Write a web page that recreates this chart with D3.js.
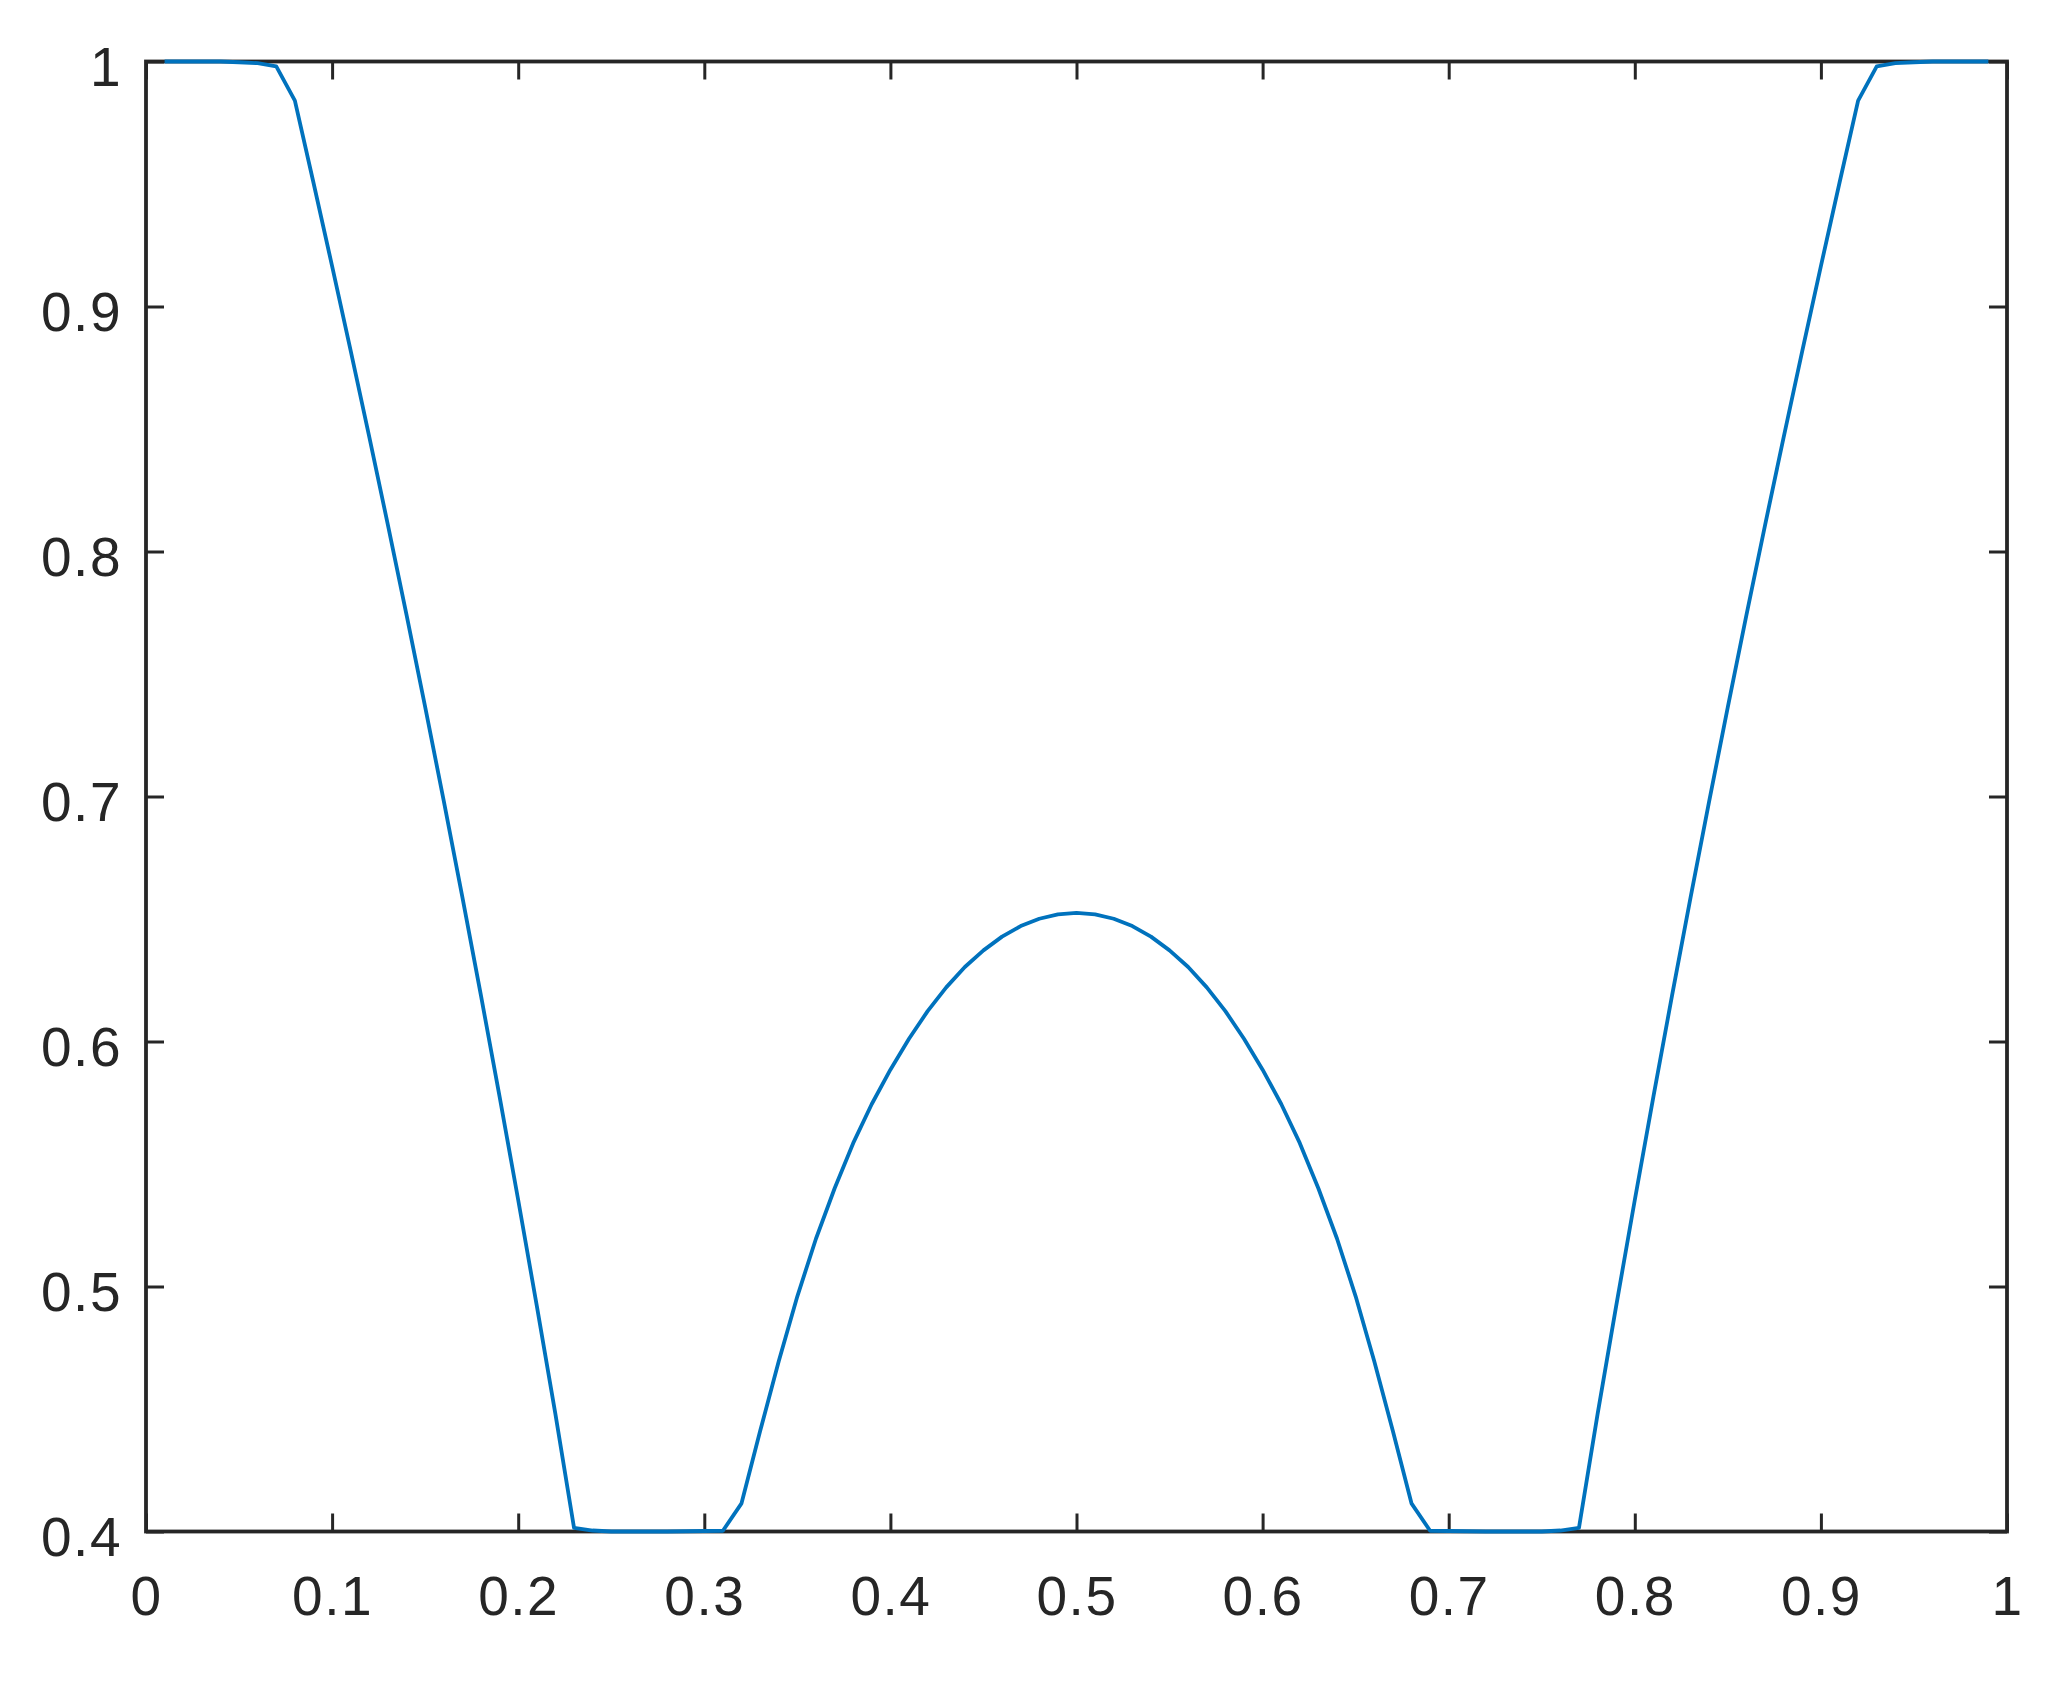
<!DOCTYPE html>
<html>
<head>
<meta charset="utf-8">
<script src="https://cdn.jsdelivr.net/npm/d3@7"></script>
<style>
  body { margin: 0; background: #fff; }
  text { font-family: "Liberation Sans", Helvetica, Arial, sans-serif; }
</style>
</head>
<body>
<svg width="2057" height="1689"></svg>
<script>
// data
var xValues = [0.01,0.02,0.03,0.04,0.05,0.06,0.07,0.08,0.09,0.10,
  0.11,0.12,0.13,0.14,0.15,0.16,0.17,0.18,0.19,0.20,
  0.21,0.22,0.23,0.24,0.25,0.26,0.27,0.28,0.29,0.30,
  0.31,0.32,0.33,0.34,0.35,0.36,0.37,0.38,0.39,0.40,
  0.41,0.42,0.43,0.44,0.45,0.46,0.47,0.48,0.49,0.50,
  0.51,0.52,0.53,0.54,0.55,0.56,0.57,0.58,0.59,0.60,
  0.61,0.62,0.63,0.64,0.65,0.66,0.67,0.68,0.69,0.70,
  0.71,0.72,0.73,0.74,0.75,0.76,0.77,0.78,0.79,0.80,
  0.81,0.82,0.83,0.84,0.85,0.86,0.87,0.88,0.89,0.90,
  0.91,0.92,0.93,0.94,0.95,0.96,0.97,0.98,0.99]

var yValues = [1.0,1.0,1.0,1.0,0.9997,0.9993,0.998,0.984,0.9505,0.9165,
  0.8819,0.8467,0.8108,0.7741,0.7366,0.6982,0.6589,0.6187,0.5775,0.5353,
  0.4921,0.4479,0.4015,0.4004,0.4,0.4,0.4,0.4,0.4001,0.4002,
  0.4003,0.4115,0.441,0.4695,0.496,0.5195,0.540,0.5585,0.5745,0.5885,
  0.6011,0.6124,0.6221,0.6304,0.6372,0.6428,0.6471,0.6501,0.6519,0.6525,
  0.6519,0.6501,0.6471,0.6428,0.6372,0.6304,0.6221,0.6124,0.6011,0.5885,
  0.5745,0.5585,0.540,0.5195,0.496,0.4695,0.441,0.4115,0.4003,0.4002,
  0.4001,0.4,0.4,0.4,0.4,0.4004,0.4015,0.4479,0.4921,0.5353,
  0.5775,0.6187,0.6589,0.6982,0.7366,0.7741,0.8108,0.8467,0.8819,0.9165,
  0.9505,0.984,0.998,0.9993,0.9997,1.0,1.0,1.0,1.0]

var xTicks = [0,0.1,0.2,0.3,0.4,0.5,0.6,0.7,0.8,0.9,1]
var xTickLabels = ["0","0.1","0.2","0.3","0.4","0.5","0.6","0.7","0.8","0.9","1"]
var yTicks = [0.4,0.5,0.6,0.7,0.8,0.9,1]
var yTickLabels = ["0.4","0.5","0.6","0.7","0.8","0.9","1"]

var svg = d3.select("svg")
var plot = {left: 146, right: 2007, top: 61.5, bottom: 1531.5}
var axisColor = "#262626"

svg.append("rect").attr("width", 2057).attr("height", 1689).attr("fill", "white")

var x = d3.scaleLinear().domain([0, 1]).range([plot.left, plot.right])
var y = d3.scaleLinear().domain([0.4, 1]).range([plot.bottom, plot.top])

function styleAxis(g) {
  g.select(".domain").remove()
  g.selectAll(".tick line").attr("stroke", axisColor).attr("stroke-width", 3)
  g.selectAll(".tick text")
    .attr("fill", axisColor)
    .style("font-size", "55px")
    .style("letter-spacing", "1.5px")
}

// bottom axis with labels
svg.append("g")
  .attr("transform", "translate(0," + plot.bottom + ")")
  .call(d3.axisBottom(x).tickValues(xTicks)
    .tickFormat((d, i) => xTickLabels[i])
    .tickSizeInner(-18).tickSizeOuter(0).tickPadding(44))
  .call(styleAxis)

// top axis, ticks only
svg.append("g")
  .attr("transform", "translate(0," + plot.top + ")")
  .call(d3.axisTop(x).tickValues(xTicks).tickFormat("")
    .tickSizeInner(-18).tickSizeOuter(0))
  .call(styleAxis)

// left axis with labels
svg.append("g")
  .attr("transform", "translate(" + plot.left + ",0)")
  .call(d3.axisLeft(y).tickValues(yTicks)
    .tickFormat((d, i) => yTickLabels[i])
    .tickSizeInner(-18).tickSizeOuter(0).tickPadding(24))
  .call(styleAxis)
  .call(g => g.selectAll(".tick text").attr("dy", "0.44em"))

// right axis, ticks only
svg.append("g")
  .attr("transform", "translate(" + plot.right + ",0)")
  .call(d3.axisRight(y).tickValues(yTicks).tickFormat("")
    .tickSizeInner(-18).tickSizeOuter(0))
  .call(styleAxis)

// box
svg.append("rect")
  .attr("x", plot.left).attr("y", plot.top)
  .attr("width", plot.right - plot.left).attr("height", plot.bottom - plot.top)
  .attr("fill", "none")
  .attr("stroke", axisColor)
  .attr("stroke-width", 3.8)

var line = d3.line()
  .x((d, i) => x(xValues[i]))
  .y(d => y(d))

svg.append("path")
  .datum(yValues)
  .attr("d", line)
  .attr("fill", "none")
  .attr("stroke", "#0072BD")
  .attr("stroke-width", 3.8)
  .attr("stroke-linejoin", "round")
</script>
</body>
</html>
